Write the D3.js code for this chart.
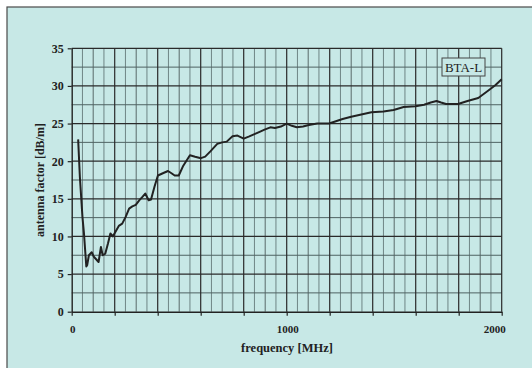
<!DOCTYPE html>
<html>
<head>
<meta charset="utf-8">
<script src="https://cdn.jsdelivr.net/npm/d3@7"></script>
<style>
  html, body { margin: 0; padding: 0; background: #ffffff; }
  svg { display: block; }
</style>
</head>
<body>
<svg id="chart" width="532" height="368"></svg>
<script>
// Antenna factor of the BTA-L antenna versus frequency
const freqMHz = [30, 38, 50, 57, 68, 72, 80, 93, 103, 125, 136, 144, 156, 169, 180, 191,
  219, 235, 251, 267, 282, 298, 314, 330, 342, 358, 369, 385, 401, 424, 448, 464, 479, 498,
  519, 550, 574, 601, 621, 645, 677, 700, 721, 748, 771, 800, 826, 850, 874, 897, 924, 945,
  973, 1000, 1024, 1047, 1076, 1103, 1142, 1197, 1229, 1260, 1300, 1347, 1394, 1450, 1497,
  1544, 1599, 1639, 1670, 1697, 1718, 1741, 1797, 1841, 1891, 1938, 1970, 2000];
const antennaFactor = [22.9, 17.9, 12.6, 10.4, 6.0, 6.2, 7.5, 7.9, 7.3, 6.6, 8.6, 7.5, 7.7, 9.1, 10.4, 10.0,
  11.4, 11.7, 12.6, 13.7, 14.0, 14.2, 14.8, 15.3, 15.7, 14.8, 14.9, 16.6, 18.1, 18.4, 18.7, 18.4, 18.1, 18.1,
  19.4, 20.8, 20.6, 20.4, 20.6, 21.3, 22.3, 22.5, 22.6, 23.3, 23.4, 23.0, 23.3, 23.6, 23.9, 24.2, 24.5, 24.4,
  24.6, 25.0, 24.7, 24.5, 24.6, 24.8, 25.0, 25.0, 25.3, 25.6, 25.9, 26.2, 26.5, 26.6, 26.8,
  27.2, 27.3, 27.5, 27.8, 28.0, 27.8, 27.6, 27.6, 28.0, 28.4, 29.4, 30.1, 30.9];

const xTickLabels = [0, 1000, 2000];
const yTickValues = [0, 5, 10, 15, 20, 25, 30, 35];
const seriesName = "BTA-L";
const xTitle = "frequency [MHz]";
const yTitle = "antenna factor [dB/m]";

const svg = d3.select("#chart");
const bg = "#c7e8e6";
const serif = "'Liberation Serif', 'Times New Roman', serif";

// panel behind the chart
svg.append("rect").attr("x", 7).attr("y", 7).attr("width", 540).attr("height", 380)
  .attr("fill", bg).attr("stroke", "#4a4a4a").attr("stroke-width", 1.2);

const plotL = 71.7, plotR = 501.7, plotT = 48.3, plotB = 311.7;
const x = d3.scaleLinear().domain([0, 2000]).range([plotL, plotR]);
const y = d3.scaleLinear().domain([0, 35]).range([plotB, plotT]);

const grid = svg.append("g");
// minor grid every 50 MHz and 2.5 dB/m
d3.range(50, 2000, 50).filter(v => v % 200 !== 0).forEach(v => {
  grid.append("line").attr("x1", x(v)).attr("x2", x(v)).attr("y1", plotT).attr("y2", plotB)
    .attr("stroke", v % 100 === 0 ? "#3d4a4a" : "#6f8585").attr("stroke-width", v % 100 === 0 ? 0.8 : 1);
});
d3.range(2.5, 35, 5).forEach(v => {
  grid.append("line").attr("x1", plotL).attr("x2", plotR).attr("y1", y(v)).attr("y2", y(v))
    .attr("stroke", "#4f6363").attr("stroke-width", 1);
});
// major grid every 200 MHz and 5 dB/m
d3.range(200, 2001, 200).forEach(v => {
  grid.append("line").attr("x1", x(v)).attr("x2", x(v)).attr("y1", plotT).attr("y2", plotB)
    .attr("stroke", "#2a2a2a").attr("stroke-width", 1.2);
});
d3.range(5, 36, 5).forEach(v => {
  grid.append("line").attr("x1", plotL).attr("x2", plotR).attr("y1", y(v)).attr("y2", y(v))
    .attr("stroke", "#2a2a2a").attr("stroke-width", 1.2);
});

// axes
const xAxis = d3.axisBottom(x).tickValues(d3.range(0, 2001, 200)).tickSize(4).tickSizeOuter(0).tickFormat("");
const yAxis = d3.axisLeft(y).tickValues(yTickValues).tickSize(4).tickSizeOuter(0).tickPadding(4);
const gx = svg.append("g").attr("transform", `translate(0,${plotB})`).call(xAxis);
const gy = svg.append("g").attr("transform", `translate(${plotL},0)`).call(yAxis);
[gx, gy].forEach(g => {
  g.select(".domain").attr("stroke", "#222").attr("stroke-width", 1.4);
  g.selectAll(".tick line").attr("stroke", "#222").attr("stroke-width", 1.2);
});
gy.selectAll("text").attr("font-family", serif).attr("font-weight", "bold")
  .attr("font-size", 12).attr("fill", "#222");

// labelled frequencies
svg.append("g").selectAll("text").data(xTickLabels).join("text")
  .attr("x", d => d === 2000 ? x(d) - 7 : x(d) + 1)
  .attr("y", 333)
  .attr("text-anchor", "middle")
  .attr("font-family", serif).attr("font-weight", "bold").attr("font-size", 11)
  .attr("fill", "#222").text(d => d);

// axis titles
svg.append("text").attr("x", 287).attr("y", 352).attr("text-anchor", "middle")
  .attr("font-family", serif).attr("font-weight", "bold").attr("font-size", 12.5)
  .attr("fill", "#222").text(xTitle);
svg.append("text").attr("transform", "translate(44,180) rotate(-90)").attr("text-anchor", "middle")
  .attr("font-family", serif).attr("font-weight", "bold").attr("font-size", 12)
  .attr("fill", "#222").text(yTitle);

// curve
const line = d3.line().x((d, i) => x(freqMHz[i])).y(d => y(d)).curve(d3.curveLinear);
svg.append("path").datum(antennaFactor).attr("d", line)
  .attr("fill", "none").attr("stroke", "#222").attr("stroke-width", 2)
  .attr("stroke-linejoin", "round");

// series label box
const lg = svg.append("g");
lg.append("rect").attr("x", 442).attr("y", 58).attr("width", 43).attr("height", 18)
  .attr("fill", bg).attr("stroke", "#444").attr("stroke-width", 1);
lg.append("text").attr("x", 463.5).attr("y", 72).attr("text-anchor", "middle")
  .attr("font-family", serif).attr("font-size", 13).attr("fill", "#222").text(seriesName);
</script>
</body>
</html>
